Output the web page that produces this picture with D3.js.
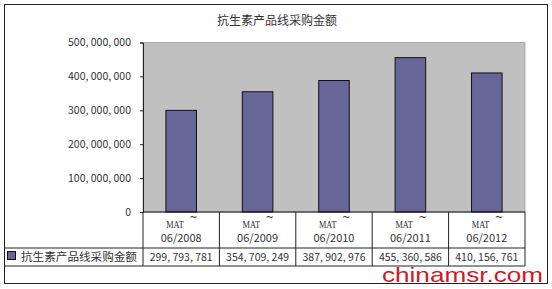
<!DOCTYPE html>
<html><head><meta charset="utf-8">
<script src="https://cdn.jsdelivr.net/npm/d3@7"></script>
<style>
html,body{margin:0;padding:0;background:#fff;}
svg{display:block;}
text{font-family:"Noto Sans CJK SC","DejaVu Sans",sans-serif;fill:#333;}
</style></head>
<body>
<svg id="c" width="552" height="289"></svg>
<script>
const title = "抗生素产品线采购金额";
const seriesName = "抗生素产品线采购金额";
const categoriesTop = ["MAT ~","MAT ~","MAT ~","MAT ~","MAT ~"];
const categoriesBottom = ["06/2008","06/2009","06/2010","06/2011","06/2012"];
const values = [299793781, 354709249, 387902976, 455360586, 410156761];
const yTicks = [0, 100000000, 200000000, 300000000, 400000000, 500000000];
const watermark = "chinamsr.com";

const svg = d3.select("#c");
const fmt = v => d3.format(",")(v).replace(/,/g, ", ");

const L = 143, R = 525, T = 42.5, B = 212;
const x = d3.scaleBand().domain(d3.range(values.length)).range([L, R]).paddingInner(0.6).paddingOuter(0.3);
const xc = d3.scaleBand().domain(d3.range(values.length)).range([L, R]);
const y = d3.scaleLinear().domain([0, 500000000]).range([B, T]);

// outer frame
svg.append("rect").attr("x",4.5).attr("y",4.5).attr("width",543).attr("height",279)
  .attr("fill","#fff").attr("stroke","#222").attr("stroke-width",1);

// title
svg.append("text").attr("x",277).attr("y",25).attr("text-anchor","middle")
  .attr("font-size",12).text(title);

// plot area
svg.append("rect").attr("x",L).attr("y",T).attr("width",R-L).attr("height",B-T)
  .attr("fill","#c0c0c0").attr("stroke","#a0a0a0").attr("stroke-width",0.8);

// y axis
const yAxis = d3.axisLeft(y).tickValues(yTicks).tickSize(3).tickPadding(9).tickFormat(v => v===0 ? "0" : fmt(v));
const ga = svg.append("g").attr("transform",`translate(${L},0)`).call(yAxis);
ga.select(".domain").attr("stroke","#222");
ga.selectAll(".tick line").attr("stroke","#222");
ga.selectAll(".tick text").attr("font-size",10.5).attr("fill","#333")
  .style("font-family",'"Noto Sans CJK SC","DejaVu Sans",sans-serif');

// bars
svg.selectAll("rect.bar").data(values).join("rect").attr("class","bar")
  .attr("x",(d,i)=>x(i)).attr("width",x.bandwidth())
  .attr("y",d=>y(d)).attr("height",d=>B-y(d))
  .attr("fill","#666699").attr("stroke","#111").attr("stroke-width",1);

// zero line
svg.append("line").attr("x1",L).attr("x2",R).attr("y1",B).attr("y2",B).attr("stroke","#111");

// data table
const r1 = 248, r2 = 266;
const g = svg.append("g").attr("stroke","#222").attr("stroke-width",1);
g.append("line").attr("x1",4).attr("x2",R).attr("y1",r1).attr("y2",r1);
g.append("line").attr("x1",4).attr("x2",R).attr("y1",r2).attr("y2",r2);
d3.range(values.length+1).forEach(i=>{
  const xx = i===values.length ? R : xc(i);
  g.append("line").attr("x1",xx).attr("x2",xx).attr("y1",B).attr("y2",r2);
});

categoriesTop.forEach((c,i)=>{
  const cx = xc(i)+xc.bandwidth()/2;
  svg.append("text").attr("x",cx-15).attr("y",228)
    .attr("font-size",10.5).attr("textLength",17.5).attr("lengthAdjust","spacingAndGlyphs")
    .style("font-family",'"Liberation Serif","DejaVu Serif",serif').text(c.split(" ")[0]);
  svg.append("text").attr("x",cx+8).attr("y",221)
    .attr("font-size",10).style("font-family",'"DejaVu Sans",sans-serif').text(c.split(" ")[1]);
  svg.append("text").attr("x",cx).attr("y",242).attr("text-anchor","middle")
    .attr("font-size",11).text(categoriesBottom[i]);
  svg.append("text").attr("x",cx).attr("y",261).attr("text-anchor","middle")
    .attr("font-size",10.5).text(fmt(values[i]));
});

// legend key + series label
svg.append("rect").attr("x",7.5).attr("y",251.5).attr("width",8).attr("height",8)
  .attr("fill","#666699").attr("stroke","#111");
svg.append("text").attr("x",21).attr("y",261).attr("font-size",11.6).text(seriesName);

// watermark
svg.append("text").attr("x",382).attr("y",282).attr("font-size",21)
  .attr("textLength",161).attr("lengthAdjust","spacingAndGlyphs")
  .style("font-family",'"Liberation Sans",Arial,sans-serif').style("fill","#cc1a22")
  .text(watermark);
</script>
</body></html>
